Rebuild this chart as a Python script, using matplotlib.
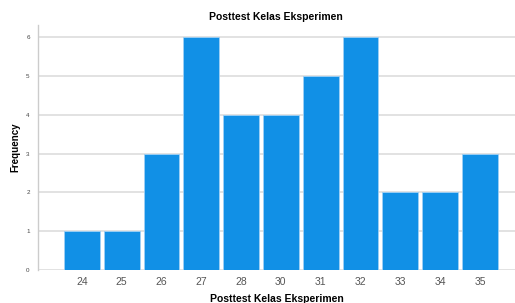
import matplotlib.pyplot as plt
import numpy as np

plt.rcParams["font.family"] = ["Liberation Sans", "DejaVu Sans"]

scores = ["24", "25", "26", "27", "28", "30", "31", "32", "33", "34", "35"]
freq = [1, 1, 3, 6, 4, 4, 5, 6, 2, 2, 3]

fig = plt.figure(figsize=(5.15, 3.03), dpi=100)
ax = fig.add_axes([38 / 515, 1 - 270 / 303, 1 - 38 / 515, (270 - 25) / 303])

x = np.arange(len(scores))
ax.bar(x, freq, width=0.9, color="#1190e6", edgecolor="#9fd0f5", linewidth=0.6, zorder=3)

ax.set_xlim(-1.1, len(scores) - 1 + 0.88)
ax.set_ylim(0, 6.31)
ax.set_yticks(range(7))
ax.set_xticks(x)
ax.set_xticklabels(scores)
ax.tick_params(axis="y", labelsize=4.5, length=0, pad=6, colors="#444444")
ax.tick_params(axis="x", labelsize=7.5, length=0, pad=5, colors="#555555")
ax.grid(axis="y", color="#e2e2e2", linewidth=1.4, zorder=0)

for side in ["top", "right", "bottom"]:
    ax.spines[side].set_visible(False)
ax.spines["left"].set_color("#cccccc")
ax.spines["left"].set_linewidth(1.0)

ax.set_xlabel("Posttest Kelas Eksperimen", fontsize=7.5, fontweight="bold", labelpad=5)
ax.set_ylabel("Frequency", fontsize=7, fontweight="bold", labelpad=4)
fig.text(0.535, 1 - 17 / 303, "Posttest Kelas Eksperimen", ha="center", va="center",
         fontsize=7.5, fontweight="bold")

plt.savefig("out.png", dpi=100)
